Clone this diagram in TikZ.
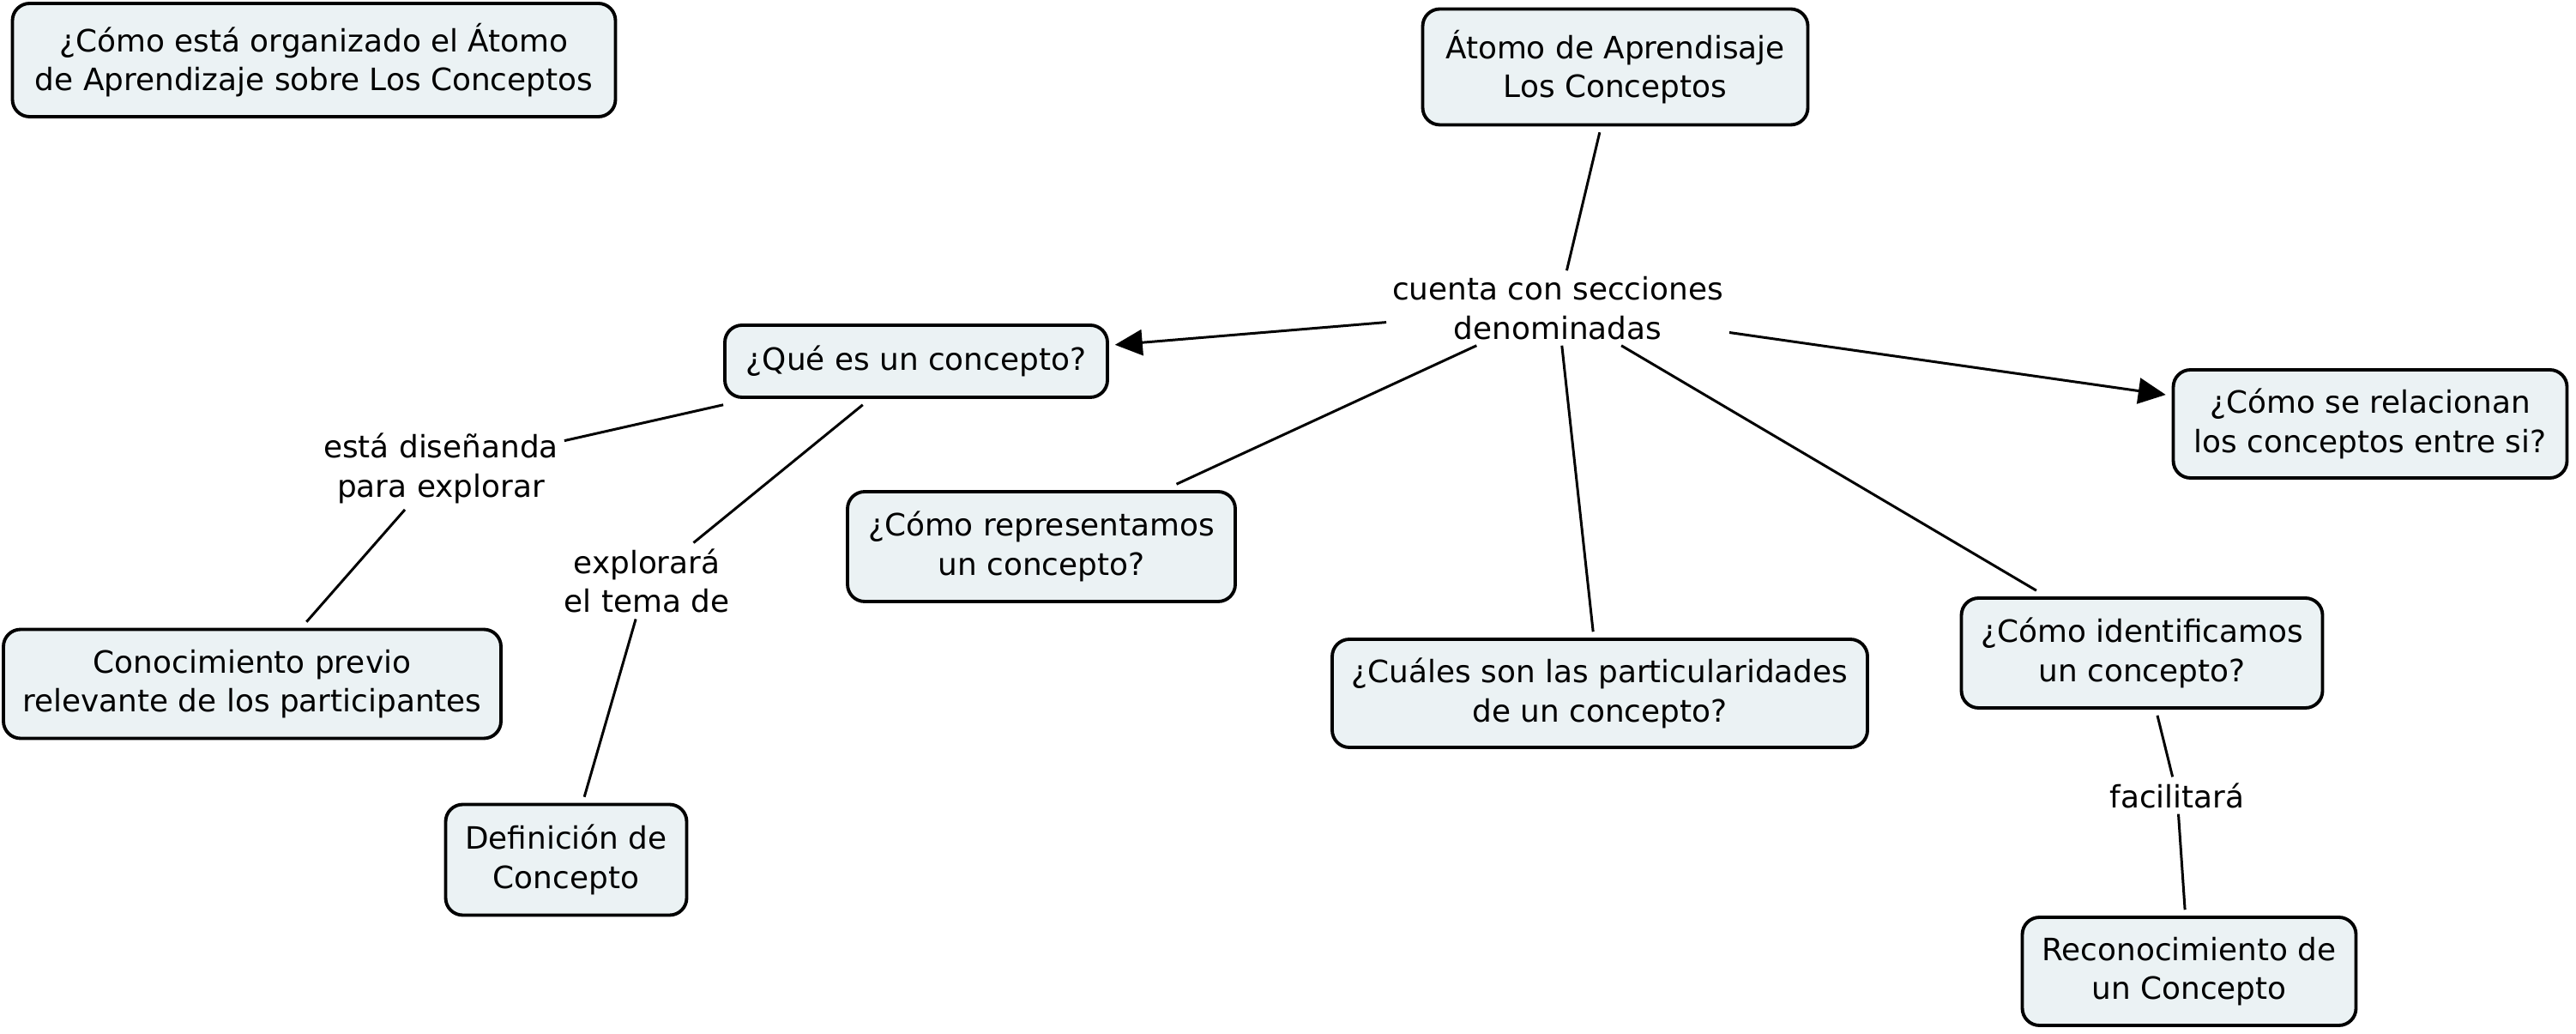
\documentclass[tikz,border=0pt]{standalone}
\usepackage{fontspec}
\setmainfont{DejaVu Sans}
\usetikzlibrary{arrows.meta}
\definecolor{cmapfill}{RGB}{235,242,244}

\begin{document}
\begin{tikzpicture}[
concept/.style={rectangle, draw, line width=1.1pt, rounded corners=0.2cm, fill=cmapfill, align=center, inner sep=0pt, outer sep=2.5pt, font=\fontsize{10.2}{13}\selectfont},
link/.style={align=center, inner sep=1pt, outer sep=1pt, font=\fontsize{10.2}{13}\selectfont},
line/.style={line width=0.85pt},
arrow/.style={line width=0.85pt, -{Triangle[length=3.2mm, width=3mm]}}
]
\useasboundingbox (0,0) rectangle (30.03,-12.05);

% concepts
\node[concept, minimum width=7.03cm, minimum height=1.32cm] (titulo) at (3.66,-0.70) {¿Cómo está organizado el Átomo\\de Aprendizaje sobre Los Conceptos};
\node[concept, minimum width=4.49cm, minimum height=1.35cm] (atomo) at (18.83,-0.78) {Átomo de Aprendisaje\\Los Conceptos};
\node[concept, minimum width=4.46cm, minimum height=0.84cm] (que) at (10.68,-4.21) {¿Qué es un concepto?};
\node[concept, minimum width=4.59cm, minimum height=1.26cm] (relacionan) at (27.63,-4.94) {¿Cómo se relacionan\\los conceptos entre si?};
\node[concept, minimum width=4.52cm, minimum height=1.28cm] (representamos) at (12.14,-6.37) {¿Cómo representamos\\un concepto?};
\node[concept, minimum width=6.24cm, minimum height=1.26cm] (particularidades) at (18.65,-8.08) {¿Cuáles son las particularidades\\de un concepto?};
\node[concept, minimum width=4.21cm, minimum height=1.28cm] (identificamos) at (24.97,-7.61) {¿Cómo identificamos\\un concepto?};
\node[concept, minimum width=5.80cm, minimum height=1.27cm] (conocimiento) at (2.94,-7.97) {Conocimiento previo\\relevante de los participantes};
\node[concept, minimum width=2.81cm, minimum height=1.29cm] (definicion) at (6.60,-10.02) {Definición de\\Concepto};
\node[concept, minimum width=3.89cm, minimum height=1.26cm] (reconocimiento) at (25.52,-11.32) {Reconocimiento de\\un Concepto};

% linking phrases
\node[link] (cuenta) at (18.16,-3.59) {cuenta con secciones\\denominadas};
\node[link] (disenada) at (5.14,-5.46) {está diseñanda\\para explorar};
\node[link] (explorara) at (7.54,-6.77) {explorará\\el tema de};
\node[link] (facilitara) at (25.38,-9.27) {facilitará};

% connections
\draw[line] (atomo) -- (cuenta);
\draw[arrow] (cuenta) -- (que);
\draw[arrow] (cuenta) -- (relacionan);
\draw[line] (cuenta) -- (representamos);
\draw[line] (cuenta) -- (particularidades);
\draw[line] (cuenta) -- (identificamos);

\draw[line] (que) -- (disenada);
\draw[line] (disenada) -- (conocimiento);
\draw[line] (que) -- (explorara);
\draw[line] (explorara) -- (definicion);

\draw[line] (identificamos) -- (facilitara);
\draw[line] (facilitara) -- (reconocimiento);

\end{tikzpicture}
\end{document}
